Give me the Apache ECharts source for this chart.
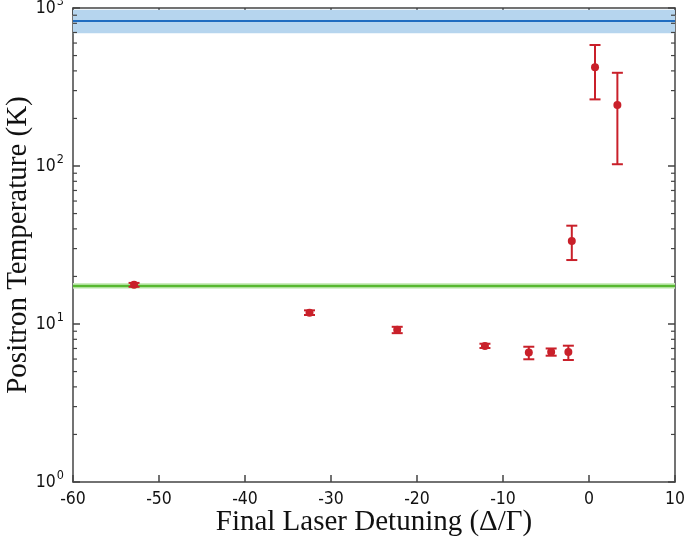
<!DOCTYPE html>
<html>
<head>
<meta charset="utf-8">
<script src="https://cdn.jsdelivr.net/npm/echarts@6/dist/echarts.min.js"></script>
<style>html,body{margin:0;padding:0;background:#fff;}#c{width:685px;height:543px;}</style>
</head>
<body>
<div id="c"></div>
<script>
// ---- data ----
const detuning    = [-52.9, -32.5, -22.3, -12.1, -7.0, -4.4, -2.4, -2.0, 0.7, 3.3];
const temperature = [17.7, 11.8, 9.2, 7.26, 6.6, 6.65, 6.65, 33.5, 421, 243];
const errLow      = [17.2, 11.4, 8.75, 7.05, 5.98, 6.3, 5.92, 25.4, 264, 102.6];
const errHigh     = [18.2, 12.2, 9.6, 7.5, 7.18, 7.0, 7.29, 41.9, 583, 389];

const blueLevel = 828;
const blueBand  = [692, 975];
const greenLevel = 17.4;
const greenBand  = [16.7, 18.2];

const xRange = [-60, 10];
const yRange = [1, 1000];
const yMinorTicks = [2,3,4,5,6,7,8,9,20,30,40,50,60,70,80,90,200,300,400,500,600,700,800,900];

// ---- chart ----
const chart = echarts.init(document.getElementById('c'), null, {renderer: 'canvas'});
const axisColor = '#444';
const red = '#c9202a';
const tickFont = '"DejaVu Sans Condensed", "DejaVu Sans", sans-serif';

const xBase = {
  type: 'value', min: xRange[0], max: xRange[1], interval: 10,
  axisLine: {show: true, onZero: false, lineStyle: {color: axisColor, width: 1.5}},
  axisTick: {show: true, inside: true, length: 7, lineStyle: {color: axisColor, width: 1.5}},
  splitLine: {show: false}
};
const yBase = {
  type: 'log', logBase: 10, min: yRange[0], max: yRange[1],
  axisLine: {show: true, onZero: false, lineStyle: {color: axisColor, width: 1.5}},
  axisTick: {show: true, inside: true, length: 7, lineStyle: {color: axisColor, width: 1.5}},
  splitLine: {show: false}
};

const option = {
  animation: false,
  backgroundColor: '#fff',
  grid: {left: 73, right: 10, top: 8, bottom: 61, outerBoundsMode: 'none', containLabel: false},
  xAxis: [
    Object.assign({}, xBase, {
      position: 'bottom',
      name: 'Final Laser Detuning (\u0394/\u0393)',
      nameLocation: 'middle', nameGap: 26, nameMoveOverlap: false,
      nameTextStyle: {fontFamily: 'Liberation Serif', fontSize: 29, color: '#111'},
      axisLabel: {margin: 8, fontFamily: tickFont, fontSize: 17.5, color: '#111',
        formatter: v => String(v)}
    }),
    Object.assign({}, xBase, {position: 'top', axisLabel: {show: false}})
  ],
  yAxis: [
    Object.assign({}, yBase, {
      position: 'left',
      name: 'Positron Temperature (K)',
      nameLocation: 'middle', nameGap: 40, nameMoveOverlap: false,
      nameTextStyle: {fontFamily: 'Liberation Serif', fontSize: 29, color: '#111'},
      axisLabel: {
        margin: 9, color: '#111', fontFamily: tickFont,
        formatter: v => '{b|10}{s|' + Math.round(Math.log10(v)) + '}',
        rich: {
          b: {fontFamily: tickFont, fontSize: 17.5, color: '#111'},
          s: {fontFamily: tickFont, fontSize: 12.5, color: '#111', padding: [0, 0, 13, 1]}
        }
      }
    }),
    Object.assign({}, yBase, {position: 'right', axisLabel: {show: false}})
  ],
  series: [
    {
      type: 'line', xAxisIndex: 0, yAxisIndex: 0,
      data: [[xRange[0], blueLevel], [xRange[1], blueLevel]],
      symbol: 'none', silent: true, z: 3,
      lineStyle: {color: '#1f6cc0', width: 2},
      markArea: {silent: true, itemStyle: {color: '#b6d5ee'},
        data: [[{yAxis: blueBand[0]}, {yAxis: blueBand[1]}]]}
    },
    {
      type: 'line', xAxisIndex: 0, yAxisIndex: 0,
      data: [[xRange[0], greenLevel], [xRange[1], greenLevel]],
      symbol: 'none', silent: true, z: 3,
      lineStyle: {color: '#57b830', width: 2.5},
      markArea: {silent: true, itemStyle: {color: '#cdeec0'},
        data: [[{yAxis: greenBand[0]}, {yAxis: greenBand[1]}]]}
    },
    {
      type: 'custom', xAxisIndex: 0, yAxisIndex: 0, z: 5,
      data: detuning.map((x, i) => [x, errLow[i], errHigh[i]]),
      renderItem: function (params, api) {
        const lo = api.coord([api.value(0), api.value(1)]);
        const hi = api.coord([api.value(0), api.value(2)]);
        const w = 5.5;
        const st = {stroke: red, lineWidth: 2};
        return {type: 'group', children: [
          {type: 'line', shape: {x1: lo[0], y1: lo[1], x2: hi[0], y2: hi[1]}, style: st},
          {type: 'line', shape: {x1: lo[0]-w, y1: lo[1], x2: lo[0]+w, y2: lo[1]}, style: st},
          {type: 'line', shape: {x1: hi[0]-w, y1: hi[1], x2: hi[0]+w, y2: hi[1]}, style: st}
        ]};
      }
    },
    {
      type: 'scatter', xAxisIndex: 0, yAxisIndex: 0, z: 6,
      data: detuning.map((x, i) => [x, temperature[i]]),
      symbol: 'circle', symbolSize: 8,
      itemStyle: {color: red, opacity: 1}
    },
    {
      type: 'custom', xAxisIndex: 0, yAxisIndex: 0, z: 7, silent: true, clip: false,
      data: yMinorTicks.map(v => [xRange[0], v]),
      renderItem: function (params, api) {
        const l = api.coord([xRange[0], api.value(1)]);
        const r = api.coord([xRange[1], api.value(1)]);
        const st = {stroke: axisColor, lineWidth: 1.2};
        return {type: 'group', children: [
          {type: 'line', shape: {x1: l[0], y1: l[1], x2: l[0]+4, y2: l[1]}, style: st},
          {type: 'line', shape: {x1: r[0]-4, y1: r[1], x2: r[0], y2: r[1]}, style: st}
        ]};
      }
    }
  ]
};
chart.setOption(option);
</script>
</body>
</html>
